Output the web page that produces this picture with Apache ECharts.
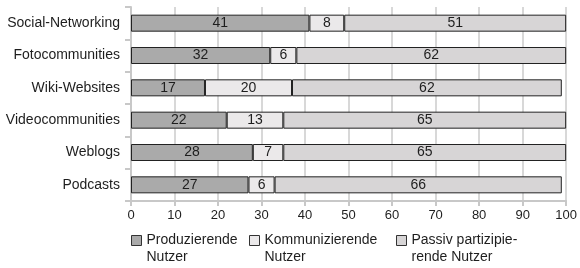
<!DOCTYPE html>
<html>
<head>
<meta charset="utf-8">
<script src="https://cdn.jsdelivr.net/npm/echarts@6/dist/echarts.min.js"></script>
<style>
  html, body { margin: 0; padding: 0; background: #fff; }
  #chart { width: 580px; height: 268px; }
</style>
</head>
<body>
<div id="chart"></div>
<script>
// Nutzungsarten je Web-2.0-Angebot (Anteile in Prozent)
const categories = ['Social-Networking', 'Fotocommunities', 'Wiki-Websites', 'Videocommunities', 'Weblogs', 'Podcasts'];
const produzierend = [41, 32, 17, 22, 28, 27];
const kommunizierend = [8, 6, 20, 13, 7, 6];
const passiv = [51, 62, 62, 65, 65, 66];
const seriesNames = ['Produzierende\nNutzer', 'Kommunizierende\nNutzer', 'Passiv partizipie-\nrende Nutzer'];
const seriesColors = ['#aaaaaa', '#ebe9ea', '#d7d5d6'];
const xTicks = { min: 0, max: 100, interval: 10 };

const font = 'Liberation Sans, Arial, sans-serif';
const textColor = '#1e1e1e';

const chart = echarts.init(document.getElementById('chart'), null, { renderer: 'canvas' });

function makeSeries(name, data, color) {
  return {
    name: name,
    type: 'bar',
    stack: 'total',
    data: data,
    barWidth: 17,
    itemStyle: { color: color, borderColor: '#222', borderWidth: 1 },
    label: {
      show: true,
      position: 'inside',
      color: textColor,
      fontFamily: font,
      fontSize: 14
    },
    emphasis: { disabled: true }
  };
}

// One legend per item so each can sit at its own x; an empty leading line
// keeps the square level with the first line of the two-line label.
const legendLefts = [131, 249, 396];
const legends = seriesNames.map((n, i) => ({
  data: [n],
  left: legendLefts[i],
  top: 215,
  orient: 'horizontal',
  icon: 'rect',
  itemWidth: 10,
  itemHeight: 10,
  itemGap: 0,
  padding: 0,
  selectedMode: false,
  formatter: name => '\n' + name,
  itemStyle: { borderColor: '#333', borderWidth: 1 },
  textStyle: {
    color: textColor,
    fontFamily: font,
    fontSize: 14,
    lineHeight: 17
  }
}));

chart.setOption({
  animation: false,
  grid: { left: 131, right: 13, top: 7, bottom: 67, containLabel: false },
  legend: legends,
  xAxis: {
    type: 'value',
    min: xTicks.min,
    max: xTicks.max,
    interval: xTicks.interval,
    axisLine: { show: true, lineStyle: { color: '#c8c8c8', width: 2 } },
    axisTick: { show: true, length: 5, lineStyle: { color: '#c8c8c8', width: 2 } },
    axisLabel: { color: textColor, fontFamily: font, fontSize: 13, margin: 8 },
    splitLine: { show: true, lineStyle: { color: '#d8d8d8', width: 2 } }
  },
  yAxis: {
    type: 'category',
    data: categories,
    inverse: true,
    axisLine: { show: true, lineStyle: { color: '#c8c8c8', width: 2 } },
    axisTick: { show: true, length: 6, lineStyle: { color: '#c8c8c8', width: 2 } },
    axisLabel: { color: textColor, fontFamily: font, fontSize: 14, margin: 11 },
    splitLine: { show: false }
  },
  series: [
    makeSeries(seriesNames[0], produzierend, seriesColors[0]),
    makeSeries(seriesNames[1], kommunizierend, seriesColors[1]),
    makeSeries(seriesNames[2], passiv, seriesColors[2])
  ]
});
</script>
</body>
</html>
